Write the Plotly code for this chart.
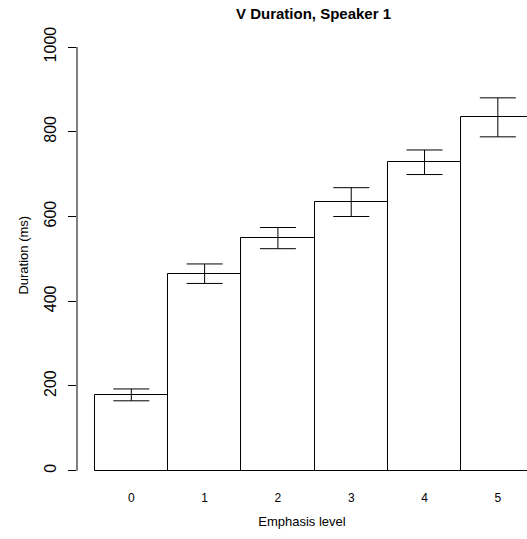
import plotly.graph_objects as go

levels = [0, 1, 2, 3, 4, 5]
level_labels = ["0", "1", "2", "3", "4", "5"]
durations = [179, 465, 549, 634, 729, 834]
err_high = [193, 488, 574, 668, 757, 880]
err_low = [165, 442, 524, 600, 699, 788]

plus = [h - m for h, m in zip(err_high, durations)]
minus = [m - l for m, l in zip(durations, err_low)]

FONT = "Liberation Sans, Arial, Helvetica, sans-serif"

fig = go.Figure()
fig.add_trace(go.Bar(
    x=levels, y=durations, width=1,
    marker=dict(color="white", line=dict(color="black", width=1)),
    error_y=dict(type="data", symmetric=False, array=plus, arrayminus=minus,
                 color="black", thickness=1, width=18),
    showlegend=False, hoverinfo="skip",
))

fig.add_shape(type="line", xref="paper", yref="y", x0=0, x1=0, y0=0, y1=1000,
              line=dict(color="black", width=1))

fig.add_annotation(text="Duration (ms)", xref="paper", yref="paper",
                   x=(22.6 - 77) / 450, y=(472 - 255) / 425,
                   xanchor="center", yanchor="middle", textangle=-90,
                   showarrow=False, font=dict(size=13, family=FONT))

fig.update_layout(
    width=527, height=539,
    margin=dict(l=77, r=0, t=47, b=67),
    paper_bgcolor="white", plot_bgcolor="white",
    bargap=0,
    font=dict(family=FONT, color="black"),
    title=dict(text="<b>V Duration, Speaker 1</b>", x=313.5/527, xanchor="center",
               y=1 - 13.5/539, yanchor="middle", font=dict(size=15, family=FONT)),
    xaxis=dict(range=[-0.741, 5.398], tickvals=levels, ticktext=level_labels,
               showline=False, showgrid=False, zeroline=False,
               ticks="outside", ticklen=15, tickcolor="rgba(0,0,0,0)",
               tickfont=dict(size=12),
               title=dict(text="Emphasis level", font=dict(size=13), standoff=12)),
    yaxis=dict(range=[-3, 1000], tickvals=[0, 200, 400, 600, 800, 1000],
               showline=False, showgrid=False, zeroline=False,
               ticks="outside", ticklen=8, tickcolor="black", tickwidth=1,
               tickangle=-90, tickfont=dict(size=16), ticklabelstandoff=6),
)

fig.write_html("out.html", config={"displayModeBar": False},
               post_script="document.body.style.margin='0';")
